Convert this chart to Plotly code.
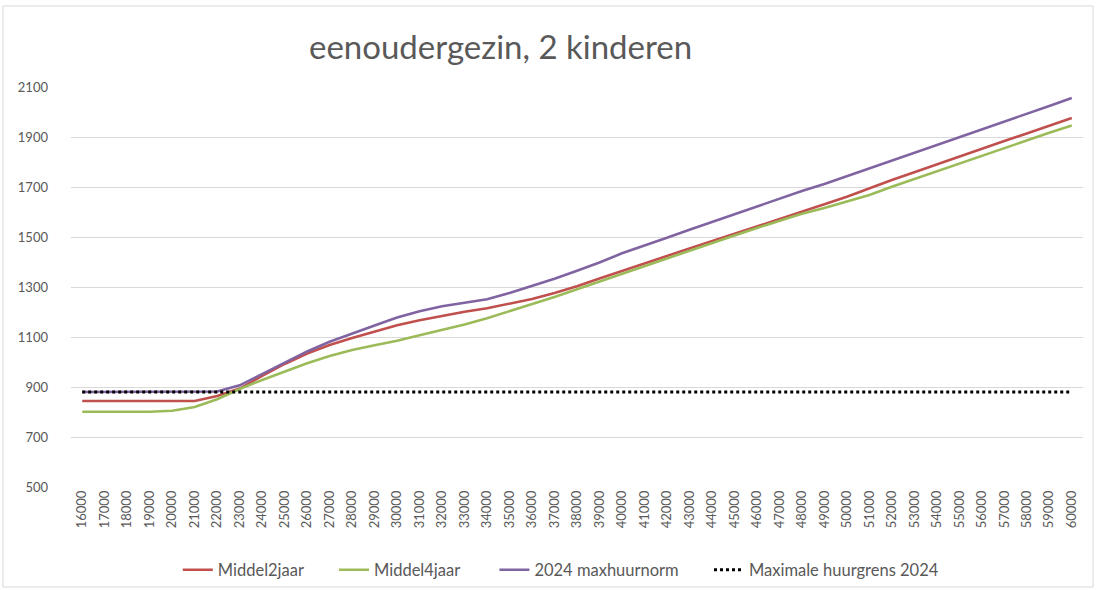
import plotly.graph_objects as go

incomes = list(range(16000, 60001, 1000))
tick_labels = [str(v) for v in incomes]

middel2jaar = [844, 844, 844, 844, 844, 844, 864, 894, 944, 992, 1034, 1068, 1096, 1121,
               1147, 1167, 1185, 1201, 1215, 1233, 1252, 1276, 1303, 1334, 1365, 1395,
               1424, 1454, 1483, 1513, 1542, 1572, 1601, 1631, 1661, 1695, 1728, 1759,
               1791, 1822, 1853, 1884, 1914, 1945, 1976]
middel4jaar = [801, 801, 801, 801, 805, 820, 851, 892, 928, 963, 995, 1024, 1048, 1067,
               1085, 1107, 1127, 1150, 1175, 1203, 1230, 1260, 1291, 1322, 1354, 1385,
               1415, 1446, 1477, 1506, 1536, 1565, 1593, 1616, 1643, 1668, 1701, 1732,
               1764, 1795, 1825, 1855, 1886, 1917, 1946]
maxhuurnorm = [879.66, 879.66, 879.66, 879.66, 879.66, 879.66, 882, 907, 952, 998, 1042,
               1081, 1115, 1146, 1178, 1203, 1223, 1238, 1251, 1276, 1303, 1333, 1365,
               1398, 1435, 1465, 1497, 1529, 1560, 1592, 1623, 1655, 1684, 1712, 1743,
               1775, 1805, 1836, 1866, 1897, 1929, 1960, 1992, 2024, 2056]
huurgrens = [879.66] * len(incomes)

NB = "\u00a0"
series = [
    ("Middel2jaar", middel2jaar, "#C0504D", "solid", 6),
    ("Middel4jaar", middel4jaar, "#9BBB59", "solid", 7),
    ("2024 maxhuurnorm", maxhuurnorm, "#8064A2", "solid", 6),
    ("Maximale huurgrens 2024", huurgrens, "#000000", "dot", 0),
]

FONT = "Lato"
GREY = "#595959"

fig = go.Figure()
for name, vals, color, dash, pad in series:
    fig.add_trace(go.Scatter(
        x=incomes, y=vals, name=name + NB * pad, mode="lines",
        line=dict(color=color, width=2.5 if dash == "solid" else 3, dash=dash),
    ))

fig.update_layout(
    width=1097, height=590,
    margin=dict(l=71, r=14, t=87, b=103, autoexpand=False),
    paper_bgcolor="white", plot_bgcolor="white",
    font=dict(family=FONT, size=13, color=GREY),
    showlegend=True,
    legend=dict(orientation="h", x=0.484, xanchor="center", y=-0.2075, yanchor="middle",
                font=dict(family=FONT, size=16.5, color=GREY), bgcolor="rgba(0,0,0,0)"),
    annotations=[dict(text="eenoudergezin, 2 kinderen", x=0.424, y=1.102, xref="paper", yref="paper",
                      showarrow=False, xanchor="center", yanchor="middle",
                      font=dict(family=FONT, size=33, color=GREY))],
    shapes=[dict(type="rect", xref="paper", yref="paper", x0=-0.0672, x1=1.0099, y0=-0.25, y1=1.2025,
                 line=dict(color="#D9D9D9", width=1), fillcolor="rgba(0,0,0,0)", layer="below")],
)
fig.update_xaxes(
    range=[15500, 60500], tickmode="array", tickvals=incomes, ticktext=tick_labels,
    tickangle=-90, showgrid=False, zeroline=False, showline=False, ticks="",
    tickfont=dict(family=FONT, size=13, color=GREY),
)
fig.update_yaxes(
    range=[500, 2100], tickmode="array", tickvals=list(range(500, 2101, 200)),
    showgrid=True, gridcolor="#D9D9D9", gridwidth=1, zeroline=False, showline=False,
    ticks="", ticklabelstandoff=22, tickfont=dict(family=FONT, size=13, color=GREY),
)

fig.write_html("out.html", config={"displayModeBar": False},
               post_script="document.body.style.margin='0';")
